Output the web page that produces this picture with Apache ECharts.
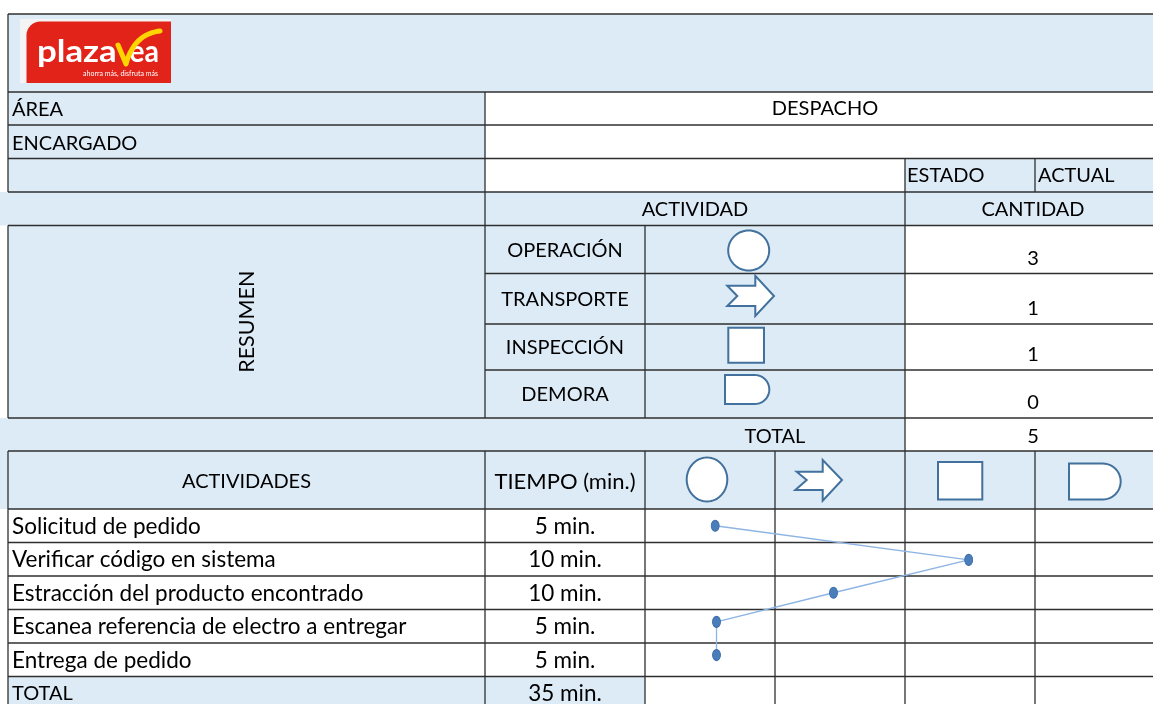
<!DOCTYPE html>
<html><head><meta charset="utf-8">
<script src="https://cdn.jsdelivr.net/npm/echarts@6/dist/echarts.min.js"></script>
<style>html,body{margin:0;padding:0;background:#fff;overflow:hidden}#c{width:1153px;height:704px}</style>
</head><body><div id="c"></div>
<script>
// ---------------- DATA ----------------
const areaName = 'DESPACHO';
const headerLabels = ['ÁREA', 'ENCARGADO'];
const stateLabels = ['ESTADO', 'ACTUAL'];
const sectionLabels = ['ACTIVIDAD', 'CANTIDAD'];
const summaryTitle = 'RESUMEN';
const summaryLabels = ['OPERACIÓN', 'TRANSPORTE', 'INSPECCIÓN', 'DEMORA'];
const summaryCounts = [3, 1, 1, 0];
const summaryTotal = 5;
const totalLabel = 'TOTAL';
const tableHeaders = ['ACTIVIDADES', 'TIEMPO (min.)'];
const activities = ['Solicitud de pedido', 'Verificar código en sistema', 'Estracción del producto encontrado', 'Escanea referencia de electro a entregar', 'Entrega de pedido'];
const activityTimes = ['5 min.', '10 min.', '10 min.', '5 min.', '5 min.'];
const totalTime = '35 min.';
// flow points: symbol column position (0=operación .. 3=inspección) and row position
const stepColumn = [0.54, 2.49, 1.45, 0.55, 0.55];
const stepRow = [0.5, 1.52, 2.5, 3.37, 4.36];

// ---------------- LAYOUT ----------------
const XL = 8, XA = 485, XB = 645, XC = 775, XD = 905, XE = 1035, XR = 1165;
const RY = [14, 92, 125, 158.5, 192, 225.5, 273.5, 324, 370, 418, 451, 509, 542.5, 576, 609.5, 643, 676.5, 712];
const BLUE = '#DDEBF7', WHITE = '#ffffff', LINE = '#2f2f2f', LW = 1.3;
const SYM_STROKE = '#41719C';
const FONT = 'Lato';
const FS_UP = 20, FS_MIX = 22.5;

const els = [];
function rect(x1, y1, x2, y2, fill) { els.push({ type: 'rect', silent: true, z: 0, shape: { x: x1, y: y1, width: x2 - x1, height: y2 - y1 }, style: { fill: fill } }); }
function hline(y, x1, x2) { els.push({ type: 'line', silent: true, z: 2, shape: { x1: x1, y1: y, x2: x2, y2: y }, style: { stroke: LINE, lineWidth: LW } }); }
function vline(x, y1, y2) { els.push({ type: 'line', silent: true, z: 2, shape: { x1: x, y1: y1, x2: x, y2: y2 }, style: { stroke: LINE, lineWidth: LW } }); }
function txt(s, x, y, align, extra, fs) {
  const st = Object.assign({ text: String(s), fill: '#000', fontSize: fs || FS_UP, fontFamily: FONT, align: align || 'left', verticalAlign: 'middle' }, extra || {});
  els.push({ type: 'text', silent: true, z: 5, x: x, y: y, style: st });
}
function sym(el) { el.silent = true; el.z = 4; el.style = Object.assign({ fill: '#fff', stroke: SYM_STROKE, lineWidth: 2 }, el.style || {}); els.push(el); }
function ellipse(cx, cy, rx, ry) {
  const pts = [];
  for (let i = 0; i < 60; i++) { const a = Math.PI * 2 * i / 60; pts.push([cx + rx * Math.cos(a), cy + ry * Math.sin(a)]); }
  sym({ type: 'polygon', shape: { points: pts } });
}
function demora(x1, x2, y1, y2) {
  const r = (y2 - y1) / 2, cx = x2 - r, cy = (y1 + y2) / 2, pts = [[x1, y1], [cx, y1]];
  for (let i = 1; i < 24; i++) { const a = -Math.PI / 2 + Math.PI * i / 24; pts.push([cx + r * Math.cos(a), cy + r * Math.sin(a)]); }
  pts.push([cx, y2], [x1, y2]);
  sym({ type: 'polygon', shape: { points: pts } });
}
function arrow(pts) { sym({ type: 'polygon', shape: { points: pts } }); }

// backgrounds
rect(XL, RY[0], XR, RY[1], BLUE);
rect(XL, RY[1], XA, RY[4], BLUE);
rect(XA, RY[1], XR, RY[3], WHITE);
rect(XA, RY[3], XD, RY[4], WHITE);
rect(XD, RY[3], XR, RY[4], BLUE);
rect(0, RY[4], XR, RY[5], BLUE);
rect(XL, RY[5], XD, RY[9], BLUE);
rect(XD, RY[5], XR, RY[10], WHITE);
rect(0, RY[9], XD, RY[10], BLUE);
rect(0, RY[10], XR, RY[11], BLUE);
rect(XL, RY[11], XR, RY[16], WHITE);
rect(XL, RY[16], XB, RY[17], BLUE);

// horizontal lines
[0, 1, 2, 3, 4, 5, 9, 10, 11, 12, 13, 14, 15, 16].forEach(i => hline(RY[i], XL, XR));
[6, 7, 8].forEach(i => hline(RY[i], XA, XR));
// vertical lines
vline(XL, RY[0], RY[4]); vline(XL, RY[5], RY[9]); vline(XL, RY[10], RY[17]);
vline(XA, RY[1], RY[9]); vline(XA, RY[10], RY[17]);
vline(XB, RY[5], RY[9]); vline(XB, RY[10], RY[17]);
vline(XC, RY[10], RY[17]);
vline(XD, RY[3], RY[17]);
vline(XE, RY[3], RY[4]); vline(XE, RY[10], RY[17]);

// logo
els.push({ type: 'rect', silent: true, z: 3, shape: { x: 20, y: 19, width: 151, height: 64 }, style: { fill: '#f4f4f4' } });
els.push({ type: 'rect', silent: true, z: 3, shape: { x: 26.5, y: 21.5, width: 144.5, height: 61.5, r: [14, 0, 0, 0] }, style: { fill: '#E2231A' } });
els.push({ type: 'text', silent: true, z: 5, x: 37, y: 52, scaleX: 1.16, style: { text: 'plaza', fill: '#fff', fontSize: 30, fontWeight: 'bold', fontFamily: 'Lato', align: 'left', verticalAlign: 'middle' } });
els.push({ type: 'text', silent: true, z: 5, x: 159, y: 52, scaleX: 0.95, style: { text: 'ea', fill: '#fff', fontSize: 30, fontWeight: 'bold', fontFamily: 'Lato', align: 'right', verticalAlign: 'middle' } });
(function () {
  const pts = [[118, 45], [126, 64]];
  for (let i = 1; i <= 14; i++) { const t = i / 14, u = 1 - t; pts.push([u * u * 126 + 2 * u * t * 134 + t * t * 160, u * u * 64 + 2 * u * t * 34 + t * t * 31]); }
  els.push({ type: 'polyline', silent: true, z: 6, shape: { points: pts }, style: { fill: null, stroke: '#FFD400', lineWidth: 5, lineCap: 'round', lineJoin: 'round' } });
})();
txt('ahorra más, disfruta más', 158, 74, 'right', { fill: '#fff', fontSize: 7, fontFamily: 'Lato' });

// header texts
txt(headerLabels[0], 12, (RY[1] + RY[2]) / 2 + 1.5);
txt(headerLabels[1], 12, (RY[2] + RY[3]) / 2 + 1.5);
txt(areaName, (XA + XR) / 2, (RY[1] + RY[2]) / 2 + 0.5, 'center');
txt(stateLabels[0], 907, (RY[3] + RY[4]) / 2 + 0.5);
txt(stateLabels[1], 1038, (RY[3] + RY[4]) / 2 + 0.5);
txt(sectionLabels[0], (XA + XD) / 2, (RY[4] + RY[5]) / 2 + 0.5, 'center');
txt(sectionLabels[1], (XD + XR) / 2 - 2, (RY[4] + RY[5]) / 2 + 0.5, 'center');
els.push({ type: 'text', silent: true, z: 5, x: 247, y: (RY[5] + RY[9]) / 2, rotation: Math.PI / 2, style: { text: summaryTitle, fill: '#000', fontSize: 21.5, fontFamily: FONT, align: 'center', verticalAlign: 'middle' } });

// summary rows
summaryLabels.forEach((s, i) => {
  const y1 = RY[5 + i], y2 = RY[6 + i];
  txt(s, (XA + XB) / 2, (y1 + y2) / 2 + 1, 'center');
  txt(summaryCounts[i], (XD + XR) / 2 - 2, y2 - 15, 'center');
});
txt(totalLabel, (XB + XD) / 2, (RY[9] + RY[10]) / 2 + 2, 'center');
txt(summaryTotal, (XD + XR) / 2 - 2, (RY[9] + RY[10]) / 2 + 2, 'center');

// summary symbols
ellipse(748.7, 250.5, 20.5, 20);
arrow([[727.3, 285.7], [737.3, 296], [727.3, 306], [755.3, 306], [755.3, 316], [774, 296], [755.3, 275.7], [755.3, 285.7]]);
sym({ type: 'rect', shape: { x: 728.3, y: 327.7, width: 35.7, height: 35 } });
demora(725, 769.3, 375, 404);

// activity table header
txt(tableHeaders[0], (XL + XA) / 2, (RY[10] + RY[11]) / 2 + 2, 'center');
txt(tableHeaders[1], (XA + XB) / 2, (RY[10] + RY[11]) / 2 + 2, 'center', null, 22);
ellipse(707, 479.5, 20.3, 22);
arrow([[796.7, 471.7], [806.7, 480], [795.3, 490], [822.7, 490], [822.7, 500.7], [842, 480], [822.7, 460], [822.7, 471.7]]);
sym({ type: 'rect', shape: { x: 938, y: 462, width: 44.3, height: 37.5 } });
demora(1069, 1120.7, 463.5, 499.5);

// activity rows
activities.forEach((s, i) => {
  const yc = (RY[11 + i] + RY[12 + i]) / 2 + 0.5;
  txt(s, 12, yc, 'left', null, FS_MIX);
  txt(activityTimes[i], (XA + XB) / 2, yc, 'center', null, FS_MIX);
});
txt(totalLabel, 12, (RY[16] + 710) / 2 + 0.5);
txt(totalTime, (XA + XB) / 2, (RY[16] + 710) / 2 + 0.5, 'center', null, FS_MIX);

const chart = echarts.init(document.getElementById('c'), null, { renderer: 'canvas' });
chart.setOption({
  animation: false,
  backgroundColor: '#fff',
  graphic: { elements: els },
  grid: { left: XB, top: RY[11], width: XE - XB, height: RY[16] - RY[11], show: false },
  xAxis: { type: 'value', min: 0, max: 3, show: false },
  yAxis: { type: 'value', min: 0, max: 5, inverse: true, show: false },
  series: [{
    type: 'line', z: 10,
    data: stepColumn.map((x, i) => [x, stepRow[i]]),
    symbol: 'circle', symbolSize: [8, 11],
    lineStyle: { color: '#8DB4E3', width: 1.3 },
    itemStyle: { color: '#4A7EBB', borderColor: '#3B6DA8', borderWidth: 1 }
  }]
});
</script></body></html>
